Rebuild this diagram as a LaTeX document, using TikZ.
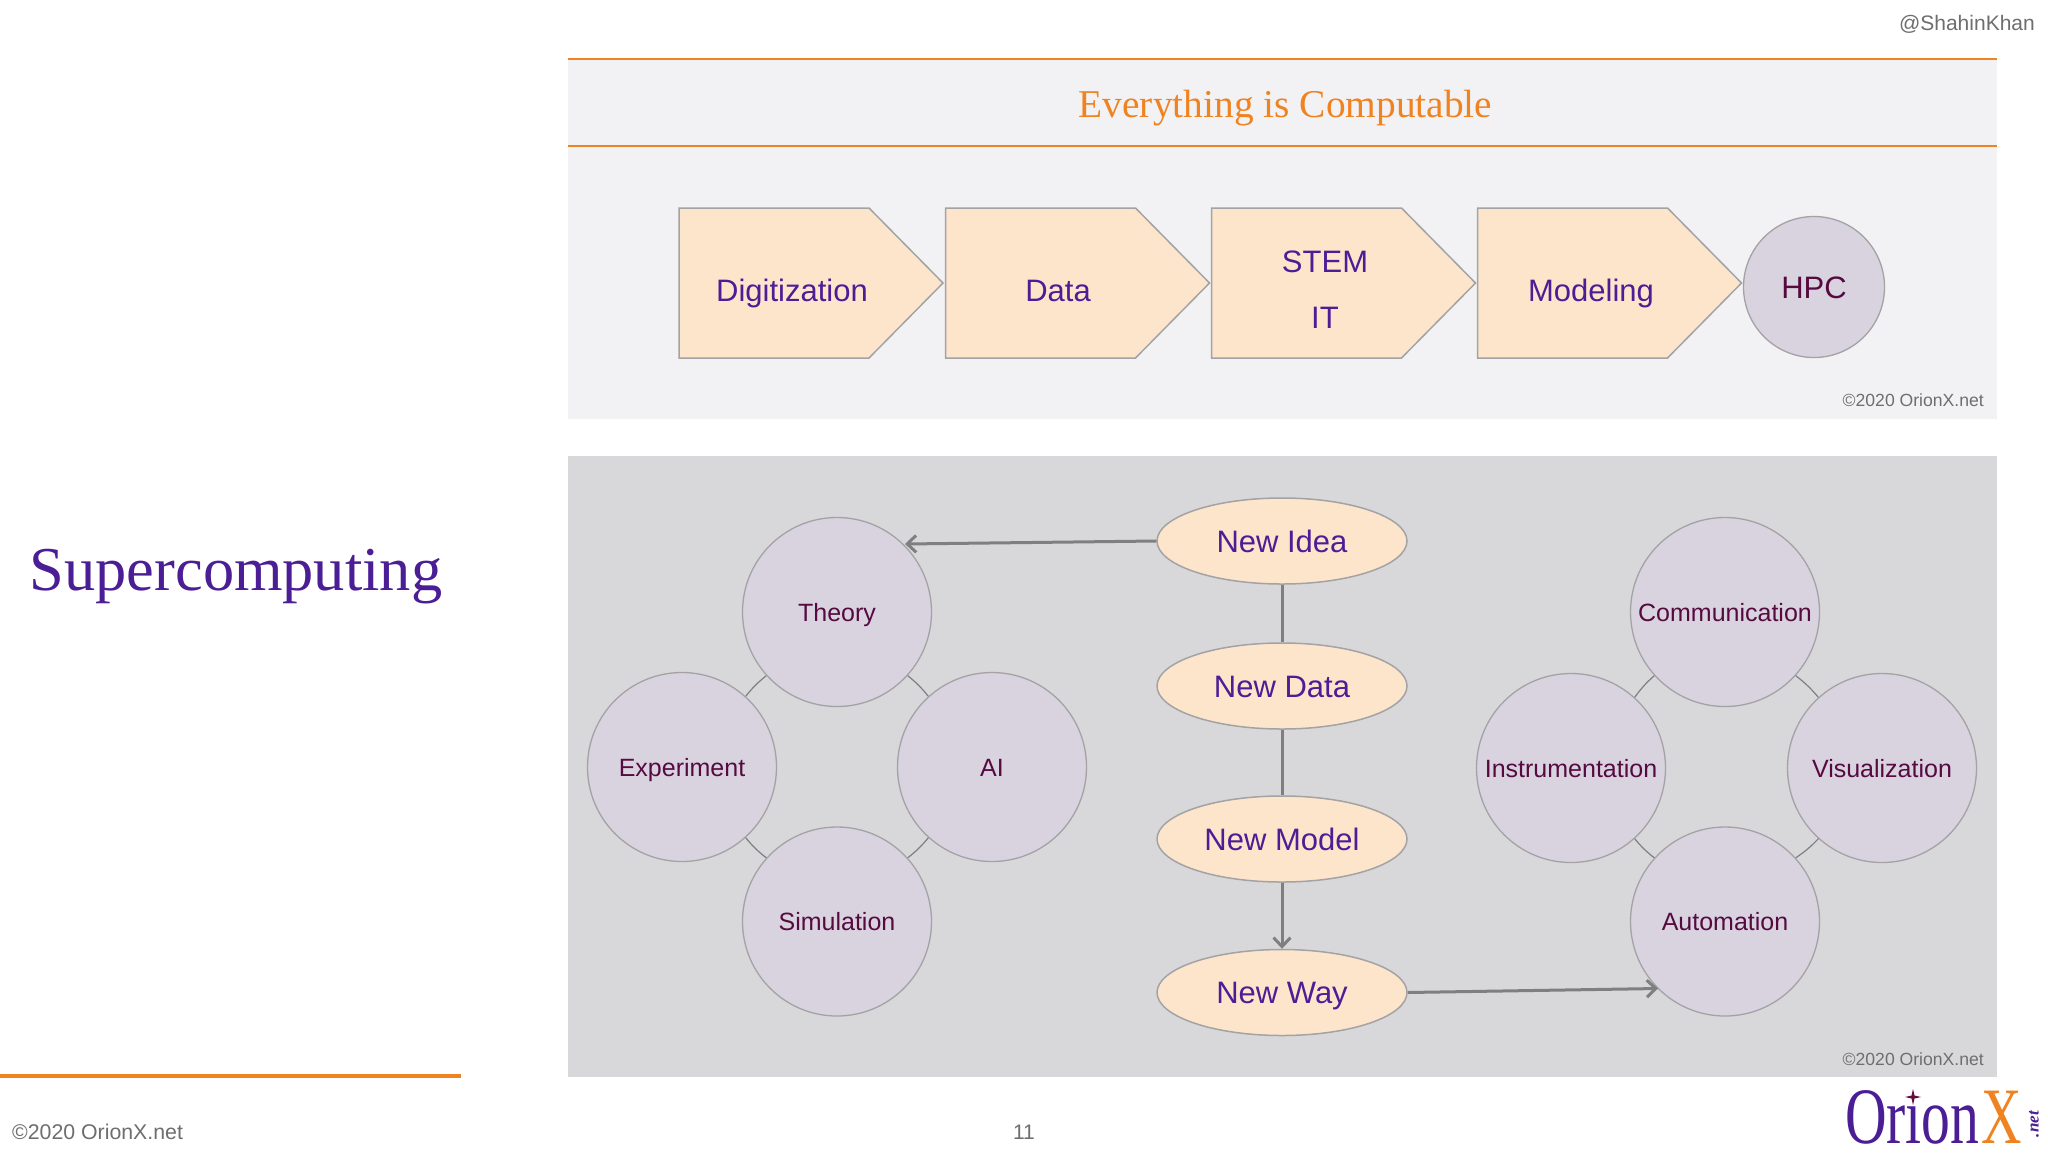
\documentclass[tikz,border=0pt]{standalone}
\usepackage{fontspec}
\setmainfont{Liberation Sans}
\newfontfamily\serifface{Liberation Serif}
\usetikzlibrary{shapes.geometric,arrows.meta}
\definecolor{panelA}{HTML}{F2F2F4}
\definecolor{panelB}{HTML}{D8D8DA}
\definecolor{peach}{HTML}{FDE5CC}
\definecolor{lilac}{HTML}{D9D3E0}
\definecolor{edgegrey}{HTML}{A3A3A5}
\definecolor{linkgrey}{HTML}{7F7F82}
\definecolor{orangeX}{HTML}{F08321}
\definecolor{purpleX}{HTML}{4B1E96}
\definecolor{plumX}{HTML}{560A40}
\definecolor{greyX}{HTML}{6E6E70}
\tikzset{
  fs/.style={font=\fontsize{#1}{#1}\selectfont},
  capmid/.style={inner sep=0pt,text height={0.72*#1 pt},text depth=0pt},
  pentshape/.style={draw=edgegrey,fill=peach,line width=1.5pt},
  pentlabel/.style={capmid=31,fs=31,text=purpleX},
  disc/.style={circle,draw=edgegrey,fill=lilac,line width=1.3pt,minimum size=189pt,capmid=25,fs=25,text=plumX},
  oval/.style={ellipse,draw=edgegrey,fill=peach,line width=1.5pt,minimum width=250pt,minimum height=86pt,capmid=31,fs=31,text=purpleX},
  link/.style={draw=linkgrey,line width=3pt},
  linkarrow/.style={link,-{Straight Barb[length=9pt,width=17pt,line width=3pt]}},
  thinarc/.style={draw=linkgrey,line width=1.2pt},
  credit/.style={inner sep=0pt,text=greyX},
}
\begin{document}
\begin{tikzpicture}[x=1pt,y=-1pt]
\useasboundingbox (0,0) rectangle (2048,1152);
\fill[white] (0,0) rectangle (2048,1152);
% panels
\fill[panelA] (568,59) rectangle (1997,419);
\fill[panelB] (568,456) rectangle (1997,1077);
\draw[orangeX,line width=2pt] (568,59) -- (1997,59);
\draw[orangeX,line width=2pt] (568,146) -- (1997,146);
\draw[orangeX,line width=3.5pt] (0,1076) -- (461,1076);
% texts of the slide
\node[capmid=39,text=orangeX,font=\serifface\fontsize{39.4}{39.4}\selectfont] (title) at (1285.5,103) {Everything is Computable};
\node[inner sep=0pt,anchor=base,text=purpleX,font=\serifface\fontsize{62.4}{62.4}\selectfont] (slidetitle) at (236,590) {Supercomputing};
\node[credit,anchor=east,fs=21] (handle) at (2035,24) {@ShahinKhan};
\node[credit,anchor=east,fs=17.6] (creditA) at (1984,400) {©2020 OrionX.net};
\node[credit,anchor=east,fs=17.6] (creditB) at (1984,1059) {©2020 OrionX.net};
\node[credit,anchor=west,fs=21.3] (footer) at (12,1132) {©2020 OrionX.net};
\node[credit,fs=21] (pageno) at (1024,1132) {11};
% pentagons
\foreach \px in {679,945.5,1211.5,1477.5}
  \draw[pentshape] (\px,208) -- ++(190,0) -- ++(74,75) -- ++(-74,75) -- ++(-190,0) -- cycle;
\node[pentlabel] (digit) at (792,290) {Digitization};
\node[pentlabel] (datab) at (1058,290) {Data};
\node[pentlabel] (stem) at (1325,261) {STEM};
\node[pentlabel] (itlab) at (1325,317) {IT};
\node[pentlabel] (model) at (1591,290) {Modeling};
\node[circle,draw=edgegrey,fill=lilac,line width=1.3pt,minimum size=141pt,capmid=31,fs=31,text=plumX] (hpc) at (1814,287) {HPC};
% discs
\node[disc] (theory) at (837,612) {Theory};
\node[disc] (experiment) at (682,767) {Experiment};
\node[disc] (ai) at (992,767) {AI};
\node[disc] (simulation) at (837,921.5) {Simulation};
\node[disc] (comm) at (1725,612) {Communication};
\node[disc] (instr) at (1571,768) {Instrumentation};
\node[disc] (visual) at (1882,768) {Visualization};
\node[disc] (autom) at (1725,921.5) {Automation};
\draw[thinarc] (theory.-42) to[bend left=6] (ai.132);
\draw[thinarc] (experiment.48) to[bend left=6] (theory.-138);
\draw[thinarc] (ai.-132) to[bend left=6] (simulation.42);
\draw[thinarc] (simulation.138) to[bend left=6] (experiment.-48);
\draw[thinarc] (comm.-42) to[bend left=6] (visual.132);
\draw[thinarc] (instr.48) to[bend left=6] (comm.-138);
\draw[thinarc] (visual.-132) to[bend left=6] (autom.42);
\draw[thinarc] (autom.138) to[bend left=6] (instr.-48);
% ovals
\node[oval] (idea) at (1282,541) {New Idea};
\node[oval] (ndata) at (1282,686) {New Data};
\node[oval] (nmodel) at (1282,839) {New Model};
\node[oval] (nway) at (1282,992.5) {New Way};
\draw[link] (idea) -- (ndata);
\draw[link] (ndata) -- (nmodel);
\draw[linkarrow] (nmodel) -- (nway);
\coordinate (theoryhit) at (905,544);
\coordinate (automhit) at (1658,988.5);
\draw[linkarrow] (idea.west) -- (theoryhit);
\draw[linkarrow] (nway.east) -- (automhit);
% logo
\node[inner sep=0pt,anchor=base west,xscale=.72,text=purpleX,font=\serifface\fontsize{80}{80}\selectfont] (orion) at (1845,1143) {Orion};
\node[inner sep=0pt,anchor=base west,xscale=.7,text=orangeX,font=\serifface\fontsize{80}{80}\selectfont] (xlogo) at (1981,1143) {X};
\node[inner sep=0pt,rotate=90,text=purpleX,font=\serifface\bfseries\itshape\fontsize{17}{17}\selectfont] (netlogo) at (2034,1124) {.net};
\fill[white] (1904,1084) rectangle (1922,1104);
\fill[purpleX!60!red!70!black] (1913,1089) -- (1914.5,1095.5) -- (1921,1097) -- (1914.5,1098.5) -- (1913,1105) -- (1911.5,1098.5) -- (1905,1097) -- (1911.5,1095.5) -- cycle;
\end{tikzpicture}
\end{document}
